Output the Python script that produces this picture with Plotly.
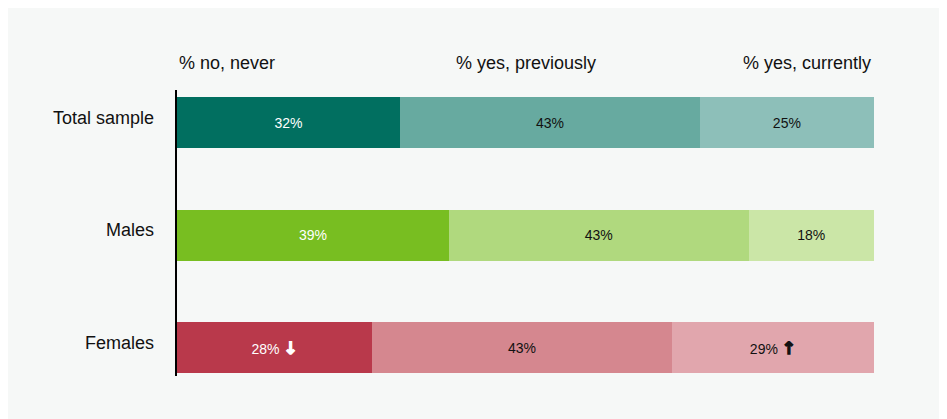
import plotly.graph_objects as go

groups = ["Total sample", "Males", "Females"]
series_names = ["% no, never", "% yes, previously", "% yes, currently"]
never = [32, 39, 28]
previously = [43, 43, 43]
currently = [25, 18, 29]
ARROW = ('<span style="font-family:DejaVu Sans;font-size:17px;stroke:{c};'
         'stroke-width:1.3px;stroke-linejoin:miter"><b>{a}</b></span>')
never_labels = ["32%", "39%", "28% " + ARROW.format(c="white", a="↓")]
prev_labels = ["43%", "43%", "43%"]
curr_labels = ["25%", "18%", "29% " + ARROW.format(c="#111111", a="↑")]

colors = {
    "never": ["#016f60", "#78be21", "#b9394b"],
    "prev": ["#67aaa0", "#b0d97e", "#d5878f"],
    "curr": ["#8dbfb9", "#cbe6a7", "#e1a6ad"],
}
text_colors = {
    "never": ["white", "white", "white"],
    "prev": ["#111111"] * 3,
    "curr": ["#111111"] * 3,
}

FONT = "Liberation Sans, Arial, Helvetica, sans-serif"

fig = go.Figure()
for key, vals, labs in [("never", never, never_labels), ("prev", previously, prev_labels), ("curr", currently, curr_labels)]:
    fig.add_trace(go.Bar(
        y=groups, x=vals, orientation="h",
        marker=dict(color=colors[key], line=dict(width=0)),
        text=labs, textposition="inside", insidetextanchor="middle",
        textangle=0,
        textfont=dict(color=text_colors[key], size=14, family=FONT),
        width=0.453, hoverinfo="skip",
    ))

W, H = 932, 411
OFF = 8
L, T = 177 - OFF, 90 - OFF
R = W - (874 - OFF)
B = H - (376 - OFF)
pw, ph = W - L - R, H - T - B

def px_x(p):
    return (p - OFF - L) / pw

def px_y(p):
    return (H - B - (p - OFF)) / ph

annotations = []
hdr_pos = [(px_x(177), "left"), (px_x(526), "center"), (px_x(873), "right")]
for name, (xp, anc) in zip(series_names, hdr_pos):
    annotations.append(dict(text=name, xref="paper", yref="paper", x=xp, y=px_y(63),
                            xanchor=anc, yanchor="middle", showarrow=False,
                            font=dict(size=18, color="#111111", family=FONT)))
for g in groups:
    annotations.append(dict(text=g, xref="paper", yref="y", x=px_x(156), y=g,
                            xanchor="right", yanchor="middle", yshift=5, showarrow=False,
                            font=dict(size=18, color="#111111", family=FONT)))

fig.update_layout(
    width=W, height=H, barmode="stack",
    margin=dict(l=L, r=R, t=T, b=B, autoexpand=False),
    paper_bgcolor="#f6f8f7", plot_bgcolor="rgba(0,0,0,0)",
    showlegend=False, annotations=annotations,
    uniformtext=dict(mode=False),
    xaxis=dict(range=[0, 100], visible=False, fixedrange=True),
    yaxis=dict(range=[2.253, -0.289], showticklabels=False,
               showline=True, linecolor="black", linewidth=1.5, ticks="",
               showgrid=False, zeroline=False, fixedrange=True),
)
fig.write_html("out.html")
